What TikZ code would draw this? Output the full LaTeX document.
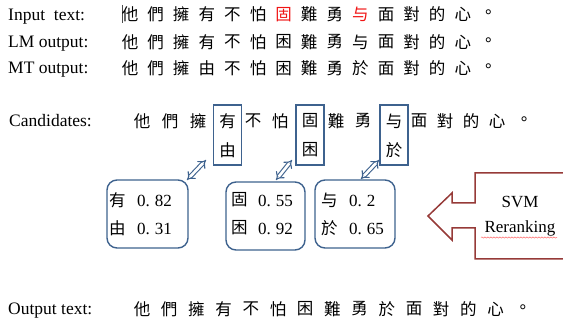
\documentclass[tikz,border=0pt]{standalone}
\usepackage{fontspec}
\setmainfont{Liberation Serif}
\newfontfamily\cjk{Noto Sans CJK TC}
\usetikzlibrary{arrows.meta,decorations.pathmorphing}
\definecolor{boxblue}{RGB}{62,98,142}
\definecolor{svmred}{RGB}{150,58,56}
\definecolor{hired}{RGB}{240,20,20}
\tikzset{
  lab/.style={font=\fontsize{17.5pt}{20pt}\selectfont, anchor=base west, inner sep=0pt},
  cj/.style={font=\cjk\fontsize{16.5pt}{18pt}\selectfont, inner sep=0pt, anchor=center},
  num/.style={font=\fontsize{17pt}{19pt}\selectfont, inner sep=0pt, anchor=west},
  candbox/.style={draw=boxblue, line width=1.4pt, inner sep=0pt, minimum width=28pt, minimum height=60pt},
  scorebox/.style={draw=boxblue, line width=1.4pt, rounded corners=10pt, inner sep=0pt, minimum width=81pt, minimum height=68pt},
  dblarrow/.style={draw=boxblue, double=white, double distance=2.6pt, line width=1.1pt, {Implies}-{Implies}},
  svmline/.style={draw=svmred, line width=1.5pt, line join=miter},
  rlab/.style={font=\fontsize{17pt}{20pt}\selectfont, inner sep=0pt, anchor=center}
}
\begin{document}
\begin{tikzpicture}[x=1pt,y=-1pt]
\useasboundingbox (0,0) rectangle (563,323);
% labels
\node[lab] (l1) at (8,20.5) {Input\ \ text:};
\node[lab] (l2) at (8,47.5) {LM output:};
\node[lab] (l3) at (8,74) {MT output:};
\node[lab] (l4) at (9,126.5) {Candidates:};
\node[lab] (l5) at (8,315) {Output text:};
% cursor
\draw[line width=0.9pt, black!70] (122,5) -- (122,23);
% row 1 input
\foreach \c/\col [count=\i] in {他/black,們/black,擁/black,有/black,不/black,怕/black,固/hired,難/black,勇/black,与/hired,面/black,對/black,的/black,心/black,。/black}
  \node[cj, text=\col] (a\i) at ({130+25.6*(\i-1)},14.5) {\c};
% row 2 LM
\foreach \c [count=\i] in {他,們,擁,有,不,怕,困,難,勇,与,面,對,的,心,。}
  \node[cj] (b\i) at ({130+25.6*(\i-1)},42) {\c};
% row 3 MT
\foreach \c [count=\i] in {他,們,擁,由,不,怕,困,難,勇,於,面,對,的,心,。}
  \node[cj] (m\i) at ({130+25.6*(\i-1)},68.5) {\c};
% candidates row
\foreach \c/\x [count=\i] in {他/142,們/170,擁/198,有/227.5,不/253,怕/280,固/310,難/336,勇/363,与/394,面/419,對/445,的/471,心/497,。/524}
  \node[cj] (c\i) at (\x,121) {\c};
\node[cj] (d4) at (227.5,150) {由};
\node[cj] (d7) at (310,150) {困};
\node[cj] (d10) at (394,150) {於};
\node[candbox] (cb1) at (227.5,135) {};
\node[candbox] (cb2) at (310,135) {};
\node[candbox] (cb3) at (394,135) {};
% score boxes
\node[scorebox] (s1) at (147.5,214) {};
\node[scorebox, minimum width=79pt] (s2) at (265.5,216) {};
\node[scorebox, minimum width=80pt] (s3) at (355,214) {};
\node[cj, anchor=west] (s1a) at (109,200) {有};
\node[num] (s1an) at (137,200.5) {0.\hspace{5pt}82};
\node[cj, anchor=west] (s1b) at (109,228) {由};
\node[num] (s1bn) at (137,228.5) {0.\hspace{5pt}31};
\node[cj, anchor=west] (s2a) at (231,200) {固};
\node[num] (s2an) at (258,200.5) {0.\hspace{5pt}55};
\node[cj, anchor=west] (s2b) at (231,228) {困};
\node[num] (s2bn) at (258,228.5) {0.\hspace{5pt}92};
\node[cj, anchor=west] (s3a) at (321,200) {与};
\node[num] (s3an) at (349,200.5) {0.\hspace{5pt}2};
\node[cj, anchor=west] (s3b) at (321,228) {於};
\node[num] (s3bn) at (349,228.5) {0.\hspace{5pt}65};
% double arrows
\coordinate (t1) at (206,160); \coordinate (h1) at (187,180);
\coordinate (t2) at (292,160); \coordinate (h2) at (276,180);
\coordinate (t3) at (379,160); \coordinate (h3) at (361,179);
\draw[dblarrow] (t1) -- (h1);
\draw[dblarrow] (t2) -- (h2);
\draw[dblarrow] (t3) -- (h3);
% SVM callout
\draw[svmline] (566,173) -- (475,173) -- (475,203) -- (452,203) -- (452,193) -- (428,216) -- (452,240) -- (452,228) -- (475,228) -- (475,259) -- (566,259);
\node[rlab] (svm1) at (520,202) {SVM};
\node[rlab] (svm2) at (520,228) {Reranking};
\draw[red!60, line width=0.5pt, decorate, decoration={snake, amplitude=0.6pt, segment length=3pt}] (481,237.5) -- (557,237.5);
% output row
\foreach \c [count=\i] in {他,們,擁,有,不,怕,困,難,勇,於,面,對,的,心,。}
  \node[cj] (o\i) at ({142+27.2*(\i-1)},309) {\c};
\end{tikzpicture}
\end{document}
